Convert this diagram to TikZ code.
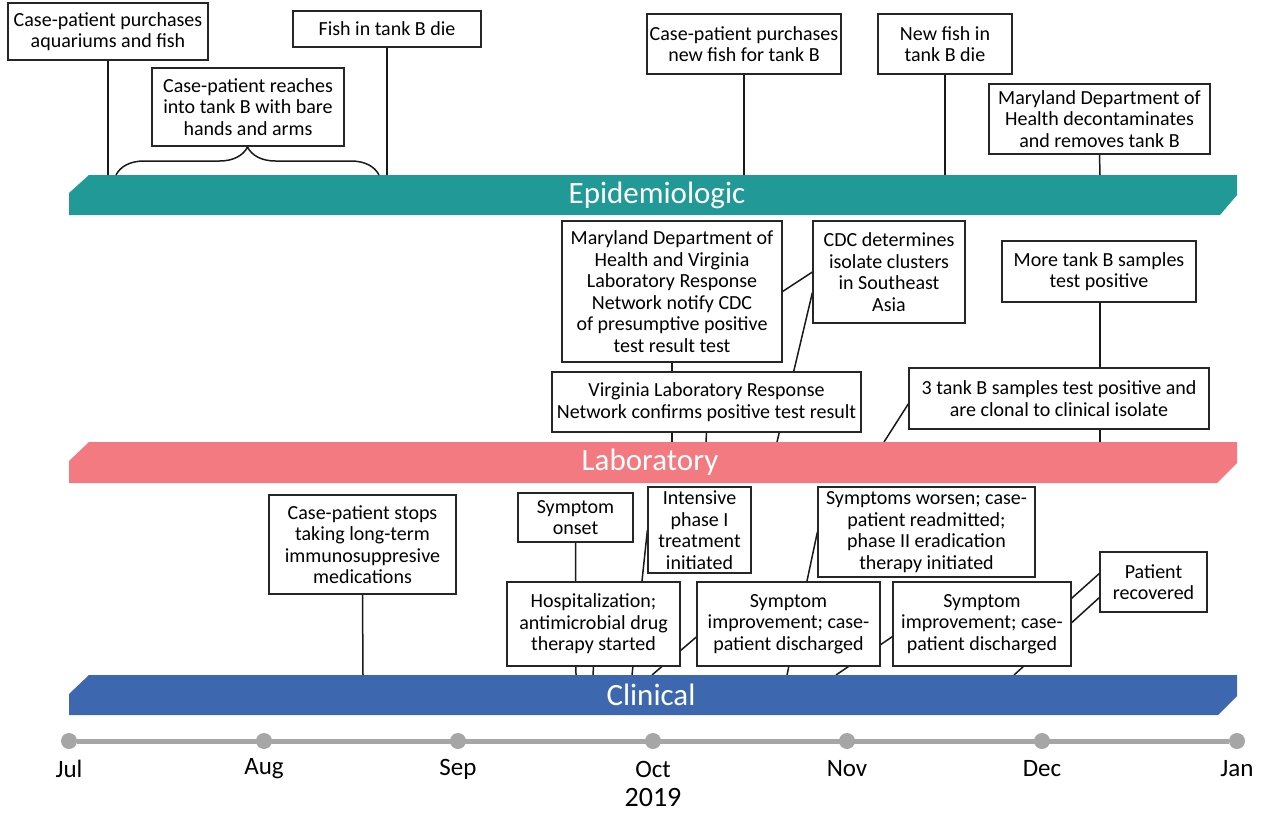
\documentclass[tikz,border=0pt]{standalone}
\usepackage{fontspec}
\setmainfont{Carlito}
\usetikzlibrary{decorations.pathreplacing}
\definecolor{epi}{RGB}{32,153,151}
\definecolor{lab}{RGB}{242,122,128}
\definecolor{clin}{RGB}{61,104,176}
\definecolor{axisgray}{RGB}{166,166,166}
\pgfdeclarelayer{bg}
\pgfsetlayers{bg,main}
\tikzset{
  evbox/.style={draw=black!85, line width=1.2pt, fill=white, align=center, inner sep=0pt,
    font=\fontsize{20}{21.5}\selectfont},
  conn/.style={line width=1.5pt, black!90},
  bandlabel/.style={text=white, font=\fontsize{31}{31}\selectfont},
  monthlabel/.style={font=\fontsize{25}{25}\selectfont},
  tick/.style={circle, fill=axisgray, minimum size=16pt, inner sep=0pt},
}
\begin{document}
\begin{tikzpicture}[x=1pt, y=-1pt]
\useasboundingbox (0,0) rectangle (1264,812);

% bands
\fill[epi] (89,175) -- (1237,175) -- (1237,195) -- (1220,215) -- (69,215) -- (69,193) -- cycle;
\fill[lab] (89,442) -- (1237,442) -- (1237,463) -- (1217,483) -- (69,483) -- (69,461) -- cycle;
\fill[clin] (89,675) -- (1237,675) -- (1237,696) -- (1218,715) -- (69,715) -- (69,694) -- cycle;
\node[bandlabel] (epilab) at (657,195) {Epidemiologic};
\node[bandlabel] (lablab) at (650,462) {Laboratory};
\node[bandlabel] (clinlab) at (651,695) {Clinical};

% epidemiologic boxes
\node[evbox, minimum width=200pt, minimum height=57pt] (e1) at (108,31.5) {Case-patient purchases\\aquariums and fish};
\node[evbox, minimum width=188pt, minimum height=36pt] (e2) at (387,29) {Fish in tank B die};
\node[evbox, minimum width=192pt, minimum height=78pt] (e3) at (248,107) {Case-patient reaches\\into tank B with bare\\hands and arms};
\node[evbox, minimum width=194pt, minimum height=60pt] (e4) at (744,44) {Case-patient purchases\\new fish for tank B};
\node[evbox, minimum width=134pt, minimum height=60pt] (e5) at (945,44) {New fish in\\tank B die};
\node[evbox, minimum width=221pt, minimum height=70pt] (e6) at (1099.5,119) {Maryland Department of\\Health decontaminates\\and removes tank B};

% laboratory boxes
\node[evbox, minimum width=220pt, minimum height=141pt] (l1) at (672,291.5) {Maryland Department of\\Health and Virginia\\Laboratory Response\\Network notify CDC\\of presumptive positive\\test result test};
\node[evbox, minimum width=152pt, minimum height=102pt] (l2) at (889,272) {CDC determines\\isolate clusters\\in Southeast\\Asia};
\node[evbox, minimum width=309pt, minimum height=60pt] (l3) at (706.5,402) {Virginia Laboratory Response\\Network confirms positive test result};
\node[evbox, minimum width=194pt, minimum height=61pt] (l4) at (1099,271.5) {More tank B samples\\test positive};
\node[evbox, minimum width=300pt, minimum height=61pt] (l5) at (1059,398.5) {3 tank B samples test positive and\\are clonal to clinical isolate};

% clinical boxes
\node[evbox, minimum width=187pt, minimum height=99pt] (c1) at (362.5,544.5) {Case-patient stops\\taking long-term\\immunosuppresive\\medications};
\node[evbox, minimum width=115pt, minimum height=49pt] (c2) at (575.5,517.5) {Symptom\\onset};
\node[evbox, minimum width=103pt, minimum height=86pt] (c3) at (699.5,530) {Intensive\\phase I\\treatment\\initiated};
\node[evbox, minimum width=173pt, minimum height=84pt] (c4) at (593.5,624) {Hospitalization;\\antimicrobial drug\\therapy started};
\node[evbox, minimum width=183pt, minimum height=84pt] (c5) at (788.5,624) {Symptom\\improvement; case-\\patient discharged};
\node[evbox, minimum width=217pt, minimum height=90pt] (c6) at (926.5,532) {Symptoms worsen; case-\\patient readmitted;\\phase II eradication\\therapy initiated};
\node[evbox, minimum width=178pt, minimum height=84pt] (c7) at (982,624) {Symptom\\improvement; case-\\patient discharged};
\node[evbox, minimum width=107pt, minimum height=60pt] (c8) at (1153.5,582) {Patient\\recovered};

% time axis
\node[tick] (m0) at (69,741) {};
\node[tick] (m1) at (264,741) {};
\node[tick] (m2) at (458,741) {};
\node[tick] (m3) at (653,741) {};
\node[tick] (m4) at (847,741) {};
\node[tick] (m5) at (1042,741) {};
\node[tick] (m6) at (1237,741) {};
\node[monthlabel] (jul) at (69,769) {Jul};
\node[monthlabel] (aug) at (264,769) {Aug};
\node[monthlabel] (sep) at (458,769) {Sep};
\node[monthlabel] (oct) at (653,769) {Oct};
\node[monthlabel] (nov) at (847,769) {Nov};
\node[monthlabel] (dec) at (1042,769) {Dec};
\node[monthlabel] (jan) at (1237,769) {Jan};
\node[font=\fontsize{28}{28}\selectfont] (year) at (653,797) {2019};

% anchor points on bands
\coordinate (pe1) at (108,175);
\coordinate (pe2) at (387,175);
\coordinate (pe4) at (744,175);
\coordinate (pe5) at (945,175);
\coordinate (pe6) at (1100,175);
\coordinate (br1) at (116,175);
\coordinate (br2) at (379,175);
\coordinate (pl1) at (672,442);
\coordinate (pl3) at (706,442);
\coordinate (pl2) at (777,442);
\coordinate (pl5) at (1100,442);
\coordinate (pl5b) at (884,442);
\coordinate (pc1) at (363,675);
\coordinate (pc2) at (576,675);
\coordinate (pc4) at (593,675);
\coordinate (pc3) at (632,675);
\coordinate (pc5) at (652,675);
\coordinate (pc6) at (787,675);
\coordinate (pc7) at (836,675);
\coordinate (pc8) at (1014,675);

\begin{pgfonlayer}{bg}
\draw[axisgray, line width=5pt] (m0) -- (m6);
\draw[conn] (e1.south) -- (pe1);
\draw[conn] (e2.south) -- (pe2);
\draw[conn] (e4.south) -- (pe4);
\draw[conn] (e5.south) -- (pe5);
\draw[conn] (e6.south) -- (pe6);
\draw[conn] (l1.south) -- (pl1);
\draw[conn] (l3.south) -- (pl3);
\draw[conn] (pl2) -- (l2.195);
\draw[conn] (l1.east) -- (l2.west);
\draw[conn] (pl5 |- l4.south) -- (pl5 |- l5.north);
\draw[conn] (pl5 |- l5.south) -- (pl5);
\draw[conn] (pl5b) -- (l5.182);
\draw[conn] (c1.south) -- (pc1);
\draw[conn] (c2.south) -- (pc2);
\draw[conn] (c4.south) -- (pc4);
\draw[conn] (pc3) -- (c3.west);
\draw[conn] (pc5) -- (c5.188);
\draw[conn] (pc6) -- (c6.west);
\draw[conn] (pc7) -- (c7.188);
\draw[conn] (pc8) -- (c8.196);
\draw[conn] (c7.16) -- (c8.171);
\end{pgfonlayer}
\draw[conn, decorate, decoration={brace, amplitude=28pt}] (br1) -- (br2);
\end{tikzpicture}
\end{document}
